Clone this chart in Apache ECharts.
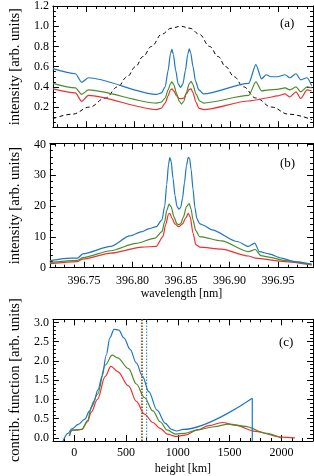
<!DOCTYPE html>
<html><head><meta charset="utf-8">
<script src="https://cdn.jsdelivr.net/npm/echarts@6/dist/echarts.min.js"></script>
<style>html,body{margin:0;padding:0;background:#fff}#c{width:314px;height:476px}</style>
</head><body><div id="c"></div>
<script>
// ---------- data ----------
const wlMajor = [396.75, 396.80, 396.85, 396.90, 396.95];
const wlMinor = [396.72,396.73,396.74,396.76,396.77,396.78,396.79,396.81,396.82,396.83,396.84,396.86,396.87,396.88,396.89,396.91,396.92,396.93,396.94,396.96,396.97,396.98];
const aYMajor = [0.2,0.4,0.6,0.8,1.0,1.2];
const aYMinor = [0.05,0.1,0.15,0.25,0.3,0.35,0.45,0.5,0.55,0.65,0.7,0.75,0.85,0.9,0.95,1.05,1.1,1.15];
const bYMajor = [0,10,20,30,40];
const bYMinor = [2,4,6,8,12,14,16,18,22,24,26,28,32,34,36,38];
const cXMajor = [0,500,1000,1500,2000];
const cXMinor = [-100,100,200,300,400,600,700,800,900,1100,1200,1300,1400,1600,1700,1800,1900,2100,2200];
const cYMajor = [0,0.5,1.0,1.5,2.0,2.5,3.0];
const cYMinor = [0.1,0.2,0.3,0.4,0.6,0.7,0.8,0.9,1.1,1.2,1.3,1.4,1.6,1.7,1.8,1.9,2.1,2.2,2.3,2.4,2.6,2.7,2.8,2.9];

const aFilter = [[396.715,0.085],[396.7355,0.13],[396.7531,0.2],[396.7698,0.29],[396.7825,0.4],[396.7923,0.5],[396.8011,0.6],[396.8089,0.70],[396.8177,0.8],[396.8284,0.92],[396.8382,0.98],[396.848,1.0],[396.8578,0.98],[396.8676,0.92],[396.8783,0.8],[396.8871,0.70],[396.895,0.6],[396.9038,0.5],[396.9136,0.4],[396.9263,0.29],[396.9429,0.2],[396.9605,0.13],[396.985,0.075]];
const aBlue = [[396.715,0.58],[396.7385,0.53],[396.745,0.445],[396.752,0.49],[396.823,0.325],[396.828,0.34],[396.832,0.40],[396.835,0.56],[396.8375,0.73],[396.839,0.77],[396.8405,0.72],[396.843,0.56],[396.8455,0.43],[396.848,0.395],[396.8505,0.43],[396.853,0.56],[396.8555,0.72],[396.857,0.775],[396.8585,0.74],[396.861,0.60],[396.8635,0.46],[396.867,0.37],[396.872,0.33],[396.919,0.435],[396.9265,0.62],[396.9324,0.48],[396.9373,0.52],[396.9422,0.50],[396.9487,0.50],[396.9569,0.52],[396.9618,0.49],[396.9683,0.53],[396.9732,0.47],[396.9798,0.49],[396.9846,0.41]];
const aGreen = [[396.715,0.435],[396.7385,0.39],[396.745,0.325],[396.752,0.37],[396.823,0.24],[396.828,0.25],[396.832,0.29],[396.835,0.37],[396.8375,0.43],[396.839,0.45],[396.841,0.42],[396.844,0.33],[396.8465,0.26],[396.849,0.23],[396.8515,0.26],[396.854,0.34],[396.857,0.43],[396.859,0.455],[396.861,0.42],[396.864,0.33],[396.868,0.26],[396.872,0.24],[396.919,0.315],[396.9265,0.45],[396.9324,0.36],[396.94,0.37],[396.9487,0.375],[396.9569,0.39],[396.9618,0.37],[396.9683,0.40],[396.9732,0.35],[396.9798,0.40],[396.9846,0.39]];
const aRed = [[396.715,0.38],[396.7385,0.34],[396.745,0.257],[396.752,0.315],[396.823,0.175],[396.828,0.19],[396.832,0.24],[396.835,0.31],[396.8375,0.37],[396.839,0.38],[396.841,0.36],[396.844,0.31],[396.8465,0.285],[396.849,0.283],[396.8515,0.29],[396.854,0.33],[396.857,0.375],[396.859,0.38],[396.861,0.34],[396.864,0.25],[396.867,0.19],[396.872,0.175],[396.919,0.26],[396.9265,0.27],[396.9373,0.29],[396.9487,0.31],[396.9569,0.33],[396.9618,0.30],[396.9683,0.35],[396.9732,0.285],[396.9798,0.37],[396.9846,0.36]];

const bBlue = [[396.715,2.3],[396.7365,3.1],[396.7434,3.1],[396.749,4.5],[396.7776,6.9],[396.7972,10.3],[396.8099,11.7],[396.8167,12.6],[396.8245,13.3],[396.8304,15.5],[396.8333,20],[396.8353,27],[396.8372,33.5],[396.8385,35.7],[396.8399,34.5],[396.8418,29],[396.8438,23.5],[396.8458,20],[396.8477,19],[396.8497,19.5],[396.8516,22.5],[396.8536,27.5],[396.8556,33],[396.8575,35.8],[396.8589,35.5],[396.8604,32],[396.8624,25.5],[396.8644,19.5],[396.8663,16],[396.8692,14.3],[396.8722,13.9],[396.8819,12.3],[396.908,8.5],[396.9194,6.9],[396.926,8.0],[396.9308,5.2],[396.9406,4.5],[396.9536,3.1],[396.9663,2.0],[396.9846,1.2]];
const bGreen = [[396.715,1.7],[396.7434,2.4],[396.749,3.3],[396.7776,5.5],[396.8037,7.9],[396.8233,9.6],[396.8304,11.7],[396.8333,15],[396.8353,18.5],[396.8378,20.6],[396.8399,19.8],[396.8428,16.5],[396.8458,14.3],[396.8477,13.9],[396.8497,14.3],[396.8526,16.5],[396.8556,19.8],[396.8585,20.8],[396.8604,19],[396.8624,15.5],[396.8653,12],[396.8692,10.1],[396.8917,8.7],[396.9194,5.2],[396.9265,5.9],[396.9324,3.9],[396.9406,3.4],[396.9569,2.3],[396.9846,1.0]];
const bRed = [[396.715,1.3],[396.7434,2.0],[396.749,2.8],[396.7776,4.7],[396.8099,6.7],[396.8245,6.9],[396.8314,10.1],[396.8343,14],[396.8372,17.4],[396.8385,17.6],[396.8409,16],[396.8438,14.2],[396.8477,13.3],[396.8516,14.2],[396.8546,16],[396.8575,17.6],[396.8595,16.5],[396.8624,11.2],[396.8653,7.5],[396.8692,6.7],[396.8917,6.0],[396.9194,3.8],[396.9265,3.1],[396.9569,2.0],[396.9846,0.9]];

const cBlue = [[-107,-0.08],[-60,0.12],[-20,0.24],[40,0.35],[100,0.48],[150,0.7],[190,0.95],[230,1.25],[270,1.6],[310,2.15],[345,2.6],[385,2.82],[430,2.8],[480,2.6],[540,2.3],[600,1.95],[660,1.6],[720,1.2],[800,0.72],[880,0.38],[940,0.22],[990,0.18],[1050,0.22],[1719,1.03]];
const cGreen = [[-47,0.05],[-20,0.2],[74,0.22],[130,0.45],[165,0.8],[225,1.13],[300,1.89],[367,2.15],[420,2.08],[525,1.8],[600,1.4],[678,1.05],[760,0.7],[829,0.42],[900,0.2],[980,0.1],[1070,0.12],[1190,0.21],[1350,0.29],[1492,0.36],[1650,0.3],[1850,0.12],[2000,0.0]];
const cRed = [[-47,0.05],[-20,0.2],[74,0.22],[130,0.42],[165,0.67],[225,1.0],[300,1.6],[355,1.86],[420,1.72],[525,1.35],[600,0.95],[678,0.62],[760,0.4],[829,0.25],[900,0.1],[980,0.04],[1070,0.07],[1190,0.21],[1300,0.32],[1432,0.4],[1550,0.33],[1750,0.17],[2000,0.02],[2130,0.0]];
const cMarkers = [650, 660, 700];

// ---------- chart ----------
const FONT = 'Liberation Serif';
const FS = 12;
const BLUE = '#1f77c4', GREEN = '#4c8c2b', RED = '#ee3030';
const grids = [
  {left:36, right:1, top:4.3, height:123},
  {left:36, right:1, top:143.5, height:124.2},
  {left:36, right:1, top:319.3, height:125}
];
const axes = {x:[], y:[]};
function addAxes(dim, gi, min, max, major, minor, labelVals, fmt, name, nameGap, labelMargin, nameSize) {
  const arr = axes[dim];
  const p1 = dim === 'x' ? 'bottom' : 'left';
  const p2 = dim === 'x' ? 'top' : 'right';
  const base = {type:'value', gridIndex:gi, min, max, splitLine:{show:false}, scale:true};
  const idx = arr.length;
  const lineOn = {show:true, onZero:false, lineStyle:{color:'#000', width:1}};
  const lineOff = {show:false, onZero:false};
  arr.push(Object.assign({}, base, {position:p1, axisLine:lineOn,
    axisTick:{show:true, inside:true, length:6, customValues:major, lineStyle:{color:'#000', width:1}},
    axisLabel:{show:!!labelVals, customValues:labelVals || [], formatter:fmt, fontFamily:FONT, fontSize:FS, color:'#000', margin:labelMargin},
    name:name || '', nameLocation:'middle', nameGap:nameGap || 0,
    nameTextStyle:{fontFamily:FONT, fontSize:nameSize || FS, color:'#000'}}));
  arr.push(Object.assign({}, base, {position:p1, axisLine:lineOff,
    axisTick:{show:true, inside:true, length:3, customValues:minor, lineStyle:{color:'#000', width:1}},
    axisLabel:{show:false}}));
  arr.push(Object.assign({}, base, {position:p2, axisLine:lineOn,
    axisTick:{show:true, inside:true, length:6, customValues:major, lineStyle:{color:'#000', width:1}},
    axisLabel:{show:false}}));
  arr.push(Object.assign({}, base, {position:p2, axisLine:lineOff,
    axisTick:{show:true, inside:true, length:3, customValues:minor, lineStyle:{color:'#000', width:1}},
    axisLabel:{show:false}}));
  return idx;
}
const f1 = v => v.toFixed(1), f2 = v => v.toFixed(2), f0 = v => String(Math.round(v));
const xa = addAxes('x', 0, 396.715, 396.986, wlMajor, wlMinor, null, f2, '', 0, 6);
const ya = addAxes('y', 0, 0, 1.2, aYMajor, aYMinor, aYMajor, f1, 'intensity [arb. units]', 18, 4, 14.5);
const xb = addAxes('x', 1, 396.715, 396.986, wlMajor, wlMinor, wlMajor, f2, 'wavelength [nm]', 20, 7);
const yb = addAxes('y', 1, 0, 40.3, bYMajor, bYMinor, bYMajor, f0, 'intensity [arb. units]', 18, 4, 14.5);
const xc = addAxes('x', 2, -205, 2305, cXMajor, cXMinor, cXMajor, f0, 'height [km]', 22, 6);
const yc = addAxes('y', 2, -0.08, 3.08, cYMajor, cYMinor, cYMajor, f1, 'contrib. function [arb. units]', 18, 4, 14.5);

function line(data, color, xi, yi, extra) {
  return Object.assign({type:'line', data, xAxisIndex:xi, yAxisIndex:yi, showSymbol:false, symbol:'none',
    smooth:0.25, smoothMonotone:'x', lineStyle:{color, width:1.2}, animation:false, silent:true}, extra || {});
}
const cBlueEnd = cBlue[cBlue.length - 1];
const series = [
  line(aFilter, '#000', xa, ya, {smooth:0.4, lineStyle:{color:'#000', width:1, type:[4,3]}}),
  line(aRed, RED, xa, ya), line(aGreen, GREEN, xa, ya), line(aBlue, BLUE, xa, ya),
  line(bRed, RED, xb, yb), line(bGreen, GREEN, xb, yb), line(bBlue, BLUE, xb, yb),
  line(cRed, RED, xc, yc, {smooth:0.35}), line(cGreen, GREEN, xc, yc, {smooth:0.35}), line(cBlue, BLUE, xc, yc, {smooth:0.35}),
  line([cBlueEnd, [cBlueEnd[0], -0.08]], BLUE, xc, yc, {smooth:false})
];
const mColors = [RED, GREEN, BLUE];
cMarkers.forEach((h, i) => {
  series.push(line([[h, -0.08], [h, 3.08]], mColors[i], xc, yc, {smooth:false, lineStyle:{color:mColors[i], width:1, type:[1.5,1.5]}}));
});

const chart = echarts.init(document.getElementById('c'), null, {renderer:'canvas'});
chart.setOption({
  animation:false,
  grid:grids,
  xAxis:axes.x, yAxis:axes.y,
  series,
  graphic:[
    {type:'text', left:280, top:17, style:{text:'(a)', font:'13px "Liberation Serif"', fill:'#000'}},
    {type:'text', left:280, top:157, style:{text:'(b)', font:'13px "Liberation Serif"', fill:'#000'}},
    {type:'text', left:279, top:336, style:{text:'(c)', font:'13px "Liberation Serif"', fill:'#000'}}
  ]
});
</script></body></html>
